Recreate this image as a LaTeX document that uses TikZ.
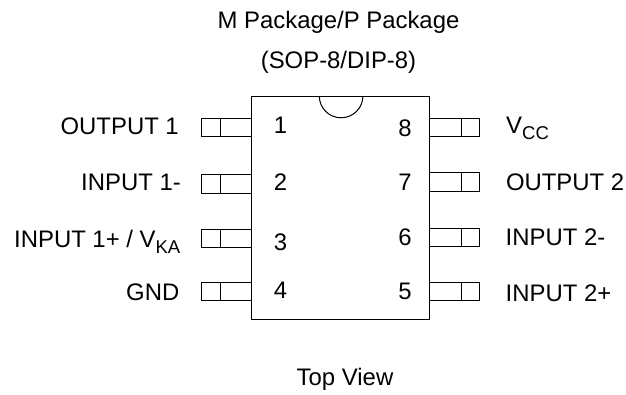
\documentclass[tikz,border=0pt]{standalone}
\usepackage{fontspec}
\setmainfont{Liberation Sans}
\newcommand{\pinsub}[1]{\raisebox{-6pt}{\fontsize{18.5pt}{20pt}\selectfont #1}}
\tikzset{
  pinbox/.style={draw=black,line width=1pt,fill=white},
  txt/.style={inner sep=0pt,font=\fontsize{23.9pt}{26pt}\selectfont,text=black},
  num/.style={txt,anchor=base},
  leftlabel/.style={txt,anchor=base east},
  rightlabel/.style={txt,anchor=base west},
  toptext/.style={txt,anchor=base}
}
\newcommand{\leftpin}[2]{%
  \draw[pinbox] (201.5,#1) rectangle (251.5,#2);
  \draw[line width=1pt] (220.8,#1) -- (220.8,#2);}
\newcommand{\rightpin}[2]{%
  \draw[pinbox] (429,#1) rectangle (479.5,#2);
  \draw[line width=1pt] (461.3,#1) -- (461.3,#2);}
\begin{document}
\begin{tikzpicture}[x=1pt,y=-1pt]
\useasboundingbox (0,0) rectangle (626,394);
\fill[white] (0,0) rectangle (626,394);
\draw[line width=1pt] (251.5,96) rectangle (429,319);
\draw[line width=1pt] (319.3,96) arc[start angle=180,end angle=0,radius=21.8];
\leftpin{118.3}{136.3}
\leftpin{174.7}{193}
\leftpin{229.3}{247.7}
\leftpin{282}{300}
\rightpin{118.3}{136.3}
\rightpin{172.7}{191}
\rightpin{228.3}{246.7}
\rightpin{282}{300}
\node[num] (n1) at (280.5,133.3) {1};
\node[num] (n2) at (280.5,190) {2};
\node[num] (n3) at (280.5,250) {3};
\node[num] (n4) at (280.5,298) {4};
\node[num] (n8) at (405,136) {8};
\node[num] (n7) at (405,190) {7};
\node[num] (n6) at (405,245.7) {6};
\node[num] (n5) at (405,299.3) {5};
\node[leftlabel] (l1) at (179,134) {OUTPUT 1};
\node[leftlabel] (l2) at (181,190) {INPUT 1-};
\node[leftlabel] (l3) at (180.5,247.7) {INPUT 1+ / V\pinsub{KA}};
\node[leftlabel] (l4) at (179.5,300) {GND};
\node[rightlabel] (r8) at (506,133) {V\pinsub{CC}};
\node[rightlabel] (r7) at (505.8,190) {OUTPUT 2};
\node[rightlabel] (r6) at (505.5,245.7) {INPUT 2-};
\node[rightlabel] (r5) at (505.5,301.7) {INPUT 2+};
\node[toptext] (t1) at (338.5,28) {M Package/P Package};
\node[toptext] (t2) at (338.5,68) {(SOP-8/DIP-8)};
\node[toptext] (t3) at (345,385) {Top View};
\end{tikzpicture}
\end{document}
